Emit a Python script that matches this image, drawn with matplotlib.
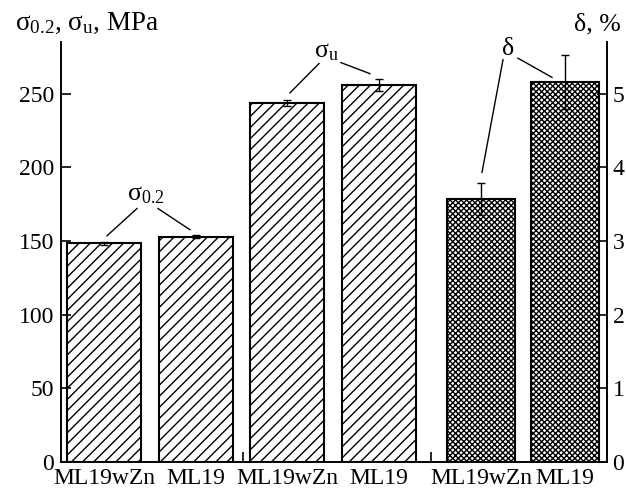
import matplotlib.pyplot as plt

plt.rcParams['font.family'] = ['Liberation Serif', 'DejaVu Serif']
plt.rcParams['mathtext.fontset'] = 'custom'
plt.rcParams['mathtext.rm'] = 'Liberation Serif'
plt.rcParams['mathtext.it'] = 'Liberation Serif'
plt.rcParams['hatch.linewidth'] = 1.0

# data
alloys = ['ML19wZn', 'ML19', 'ML19wZn', 'ML19', 'ML19wZn', 'ML19']
sigma02 = [148.5, 153.0]
sigma02_err = [1.0, 1.0]
sigma_u = [243.5, 256.0]
sigma_u_err = [2.0, 4.0]
delta = [3.57, 5.16]
delta_err = [0.22, 0.37]

# layout (x in axis units)
xpos = [43, 135, 226, 318, 420, 504]
wid = [74, 74, 74, 74, 68, 68]
sep_ticks = [182, 370]

fig = plt.figure(figsize=(6.26, 4.93), dpi=100)
ax = fig.add_axes([61/626, 31/493, 546/626, 420/493])
ax2 = ax.twinx()

ebar = dict(ecolor='black', elinewidth=1.0, capsize=3, capthick=1.0)
ax.bar(xpos[0:2], sigma02, width=wid[0:2], yerr=sigma02_err, color='white',
       edgecolor='black', linewidth=1.5, hatch='///', error_kw=ebar)
ax.bar(xpos[2:4], sigma_u, width=wid[2:4], yerr=sigma_u_err, color='white',
       edgecolor='black', linewidth=1.5, hatch='///', error_kw=ebar)
ax2.bar(xpos[4:6], delta, width=wid[4:6], yerr=delta_err, color='white',
        edgecolor='black', linewidth=1.5, hatch='xxxxxx', error_kw=ebar)

ax.set_xlim(0, 546)
ax.set_ylim(0, 285)
ax2.set_ylim(0, 5.7)
ax.set_yticks([0, 50, 100, 150, 200, 250])
ax2.set_yticks([0, 1, 2, 3, 4, 5])
ax.set_xticks(xpos)
ax.set_xticklabels(alloys)
ax.set_xticks(sep_ticks, minor=True)

for a in (ax, ax2):
    a.spines['top'].set_visible(False)
    for s in a.spines.values():
        s.set_linewidth(1.2)
ax.tick_params(axis='y', direction='in', length=7, width=1.2, labelsize=17, pad=5)
ax2.tick_params(axis='y', direction='in', length=7, width=1.2, labelsize=17, pad=4)
ax.tick_params(axis='x', which='major', length=0, labelsize=17, pad=4)
ax.tick_params(axis='x', which='minor', direction='in', length=7, width=1.2)

# axis titles
fig.text(15/626, 1 - 30/493, 'σ$_{0.2}$, σ$_\\mathrm{u}$, MPa', fontsize=19.5)
fig.text(621/626, 1 - 30/493, 'δ, %', fontsize=18.5, ha='right')

# callout labels with leader lines
lw = 1.0
ax.text(85, 181, 'σ$_{0.2}$', fontsize=18.5, ha='center', va='center')
ax.plot([76, xpos[0] + 3], [172, sigma02[0] + sigma02_err[0] + 4], color='black', lw=lw)
ax.plot([97, xpos[1] - 6], [172, sigma02[1] + sigma02_err[1] + 3.6], color='black', lw=lw)

ax.text(265, 278, 'σ$_\\mathrm{u}$', fontsize=18.5, ha='center', va='center')
ax.plot([258, xpos[2] + 3], [270.4, sigma_u[0] + sigma_u_err[0] + 5], color='black', lw=lw)
ax.plot([280, xpos[3] - 9], [271, sigma_u[1] + sigma_u_err[1] + 3.5], color='black', lw=lw)

ax2.text(447, 5.6, 'δ', fontsize=18.5, ha='center', va='center')
ax2.plot([442, xpos[4] + 1], [5.46, delta[0] + delta_err[0] + 0.14], color='black', lw=lw)
ax2.plot([457, xpos[5] - 13], [5.48, delta[1] + 0.06], color='black', lw=lw)

fig.savefig('out.png', dpi=100)
